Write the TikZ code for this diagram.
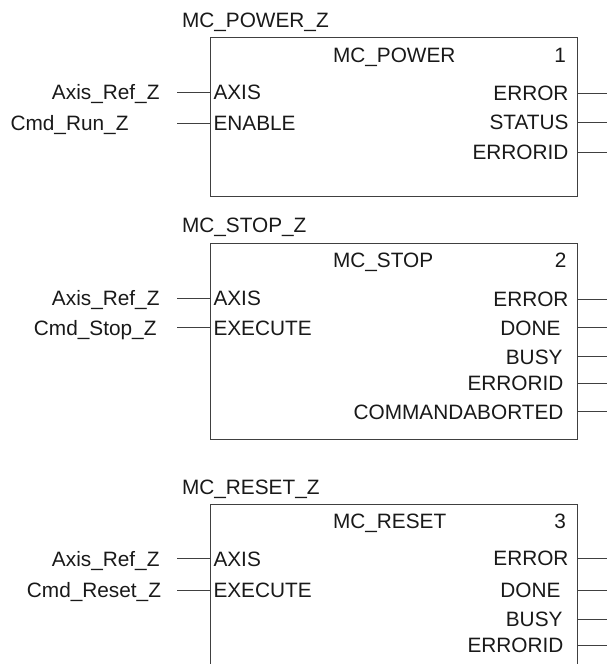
\documentclass[tikz,border=0pt]{standalone}
\usepackage{fontspec}
\setmainfont{Liberation Sans}
\begin{document}
\begin{tikzpicture}[x=1pt,y=-1pt,
  font=\fontsize{20.8}{24}\selectfont,
  lbl/.style={inner sep=0pt, outer sep=0pt, text=black!90},
  fbox/.style={draw=black!75, line width=1pt, inner sep=0pt, outer sep=0pt, minimum width=366.3pt},
  wire/.style={draw=black!75, line width=1pt}]
\clip (0,0) rectangle (607,664);

% ---------- Block 1 : MC_POWER ----------
\node[lbl, anchor=base west] (t1) at (182,27.7) {MC\_POWER\_Z};
\node[fbox, anchor=north west, minimum height=159pt] (b1) at (210.7,37.7) {};
\node[lbl, anchor=base west] (n1) at (333,62.7) {MC\_POWER};
\node[lbl, anchor=base east] (k1) at (566,62.7) {1};
% inputs
\node[lbl, anchor=base east] (v1a) at (159.5,99.3) {Axis\_Ref\_Z};
\node[lbl, anchor=base east] (v1b) at (128.5,130.3) {Cmd\_Run\_Z};
\node[lbl, anchor=base west] (p1a) at (213.5,99.3) {AXIS};
\node[lbl, anchor=base west] (p1b) at (213.5,130.3) {ENABLE};
\coordinate (i1a) at (177,92);
\coordinate (i1b) at (177,123);
\draw[wire] (i1a) -- (i1a -| b1.west);
\draw[wire] (i1b) -- (i1b -| b1.west);
% outputs
\node[lbl, anchor=base east] (q1a) at (568.5,100.3) {ERROR};
\node[lbl, anchor=base east] (q1b) at (568.5,129.3) {STATUS};
\node[lbl, anchor=base east] (q1c) at (568.5,159.3) {ERRORID};
\coordinate (o1a) at (607,93);
\coordinate (o1b) at (607,122);
\coordinate (o1c) at (607,152);
\draw[wire] (o1a -| b1.east) -- (o1a);
\draw[wire] (o1b -| b1.east) -- (o1b);
\draw[wire] (o1c -| b1.east) -- (o1c);

% ---------- Block 2 : MC_STOP ----------
\node[lbl, anchor=base west] (t2) at (182,232.3) {MC\_STOP\_Z};
\node[fbox, anchor=north west, minimum height=195.7pt] (b2) at (210.7,243.3) {};
\node[lbl, anchor=base west] (n2) at (333,267.7) {MC\_STOP};
\node[lbl, anchor=base east] (k2) at (566.5,267.7) {2};
% inputs
\node[lbl, anchor=base east] (v2a) at (159.5,305.3) {Axis\_Ref\_Z};
\node[lbl, anchor=base east] (v2b) at (156.5,335) {Cmd\_Stop\_Z};
\node[lbl, anchor=base west] (p2a) at (213.5,305.3) {AXIS};
\node[lbl, anchor=base west] (p2b) at (213.5,335) {EXECUTE};
\coordinate (i2a) at (177,298);
\coordinate (i2b) at (177,327.7);
\draw[wire] (i2a) -- (i2a -| b2.west);
\draw[wire] (i2b) -- (i2b -| b2.west);
% outputs
\node[lbl, anchor=base east] (q2a) at (568.5,306.6) {ERROR};
\node[lbl, anchor=base east] (q2b) at (560.5,335) {DONE};
\node[lbl, anchor=base east] (q2c) at (562.5,364) {BUSY};
\node[lbl, anchor=base east] (q2d) at (563.5,390.6) {ERRORID};
\node[lbl, anchor=base east] (q2e) at (563.5,419) {COMMANDABORTED};
\coordinate (o2a) at (607,299.3);
\coordinate (o2b) at (607,327.7);
\coordinate (o2c) at (607,356.7);
\coordinate (o2d) at (607,383.3);
\coordinate (o2e) at (607,411.7);
\draw[wire] (o2a -| b2.east) -- (o2a);
\draw[wire] (o2b -| b2.east) -- (o2b);
\draw[wire] (o2c -| b2.east) -- (o2c);
\draw[wire] (o2d -| b2.east) -- (o2d);
\draw[wire] (o2e -| b2.east) -- (o2e);

% ---------- Block 3 : MC_RESET ----------
\node[lbl, anchor=base west] (t3) at (182,494) {MC\_RESET\_Z};
\node[fbox, anchor=north west, minimum height=200pt] (b3) at (210.7,504.3) {};
\node[lbl, anchor=base west] (n3) at (333,528.3) {MC\_RESET};
\node[lbl, anchor=base east] (k3) at (566,528.3) {3};
% inputs
\node[lbl, anchor=base east] (v3a) at (159.5,566) {Axis\_Ref\_Z};
\node[lbl, anchor=base east] (v3b) at (161,597.3) {Cmd\_Reset\_Z};
\node[lbl, anchor=base west] (p3a) at (213.5,566) {AXIS};
\node[lbl, anchor=base west] (p3b) at (213.5,597.3) {EXECUTE};
\coordinate (i3a) at (177,558.7);
\coordinate (i3b) at (177,590);
\draw[wire] (i3a) -- (i3a -| b3.west);
\draw[wire] (i3b) -- (i3b -| b3.west);
% outputs
\node[lbl, anchor=base east] (q3a) at (568.5,565.6) {ERROR};
\node[lbl, anchor=base east] (q3b) at (560.5,597.3) {DONE};
\node[lbl, anchor=base east] (q3c) at (562.5,626.6) {BUSY};
\node[lbl, anchor=base east] (q3d) at (563.5,652.3) {ERRORID};
\coordinate (o3a) at (607,558.3);
\coordinate (o3b) at (607,590);
\coordinate (o3c) at (607,619.3);
\coordinate (o3d) at (607,645);
\draw[wire] (o3a -| b3.east) -- (o3a);
\draw[wire] (o3b -| b3.east) -- (o3b);
\draw[wire] (o3c -| b3.east) -- (o3c);
\draw[wire] (o3d -| b3.east) -- (o3d);
\end{tikzpicture}
\end{document}
